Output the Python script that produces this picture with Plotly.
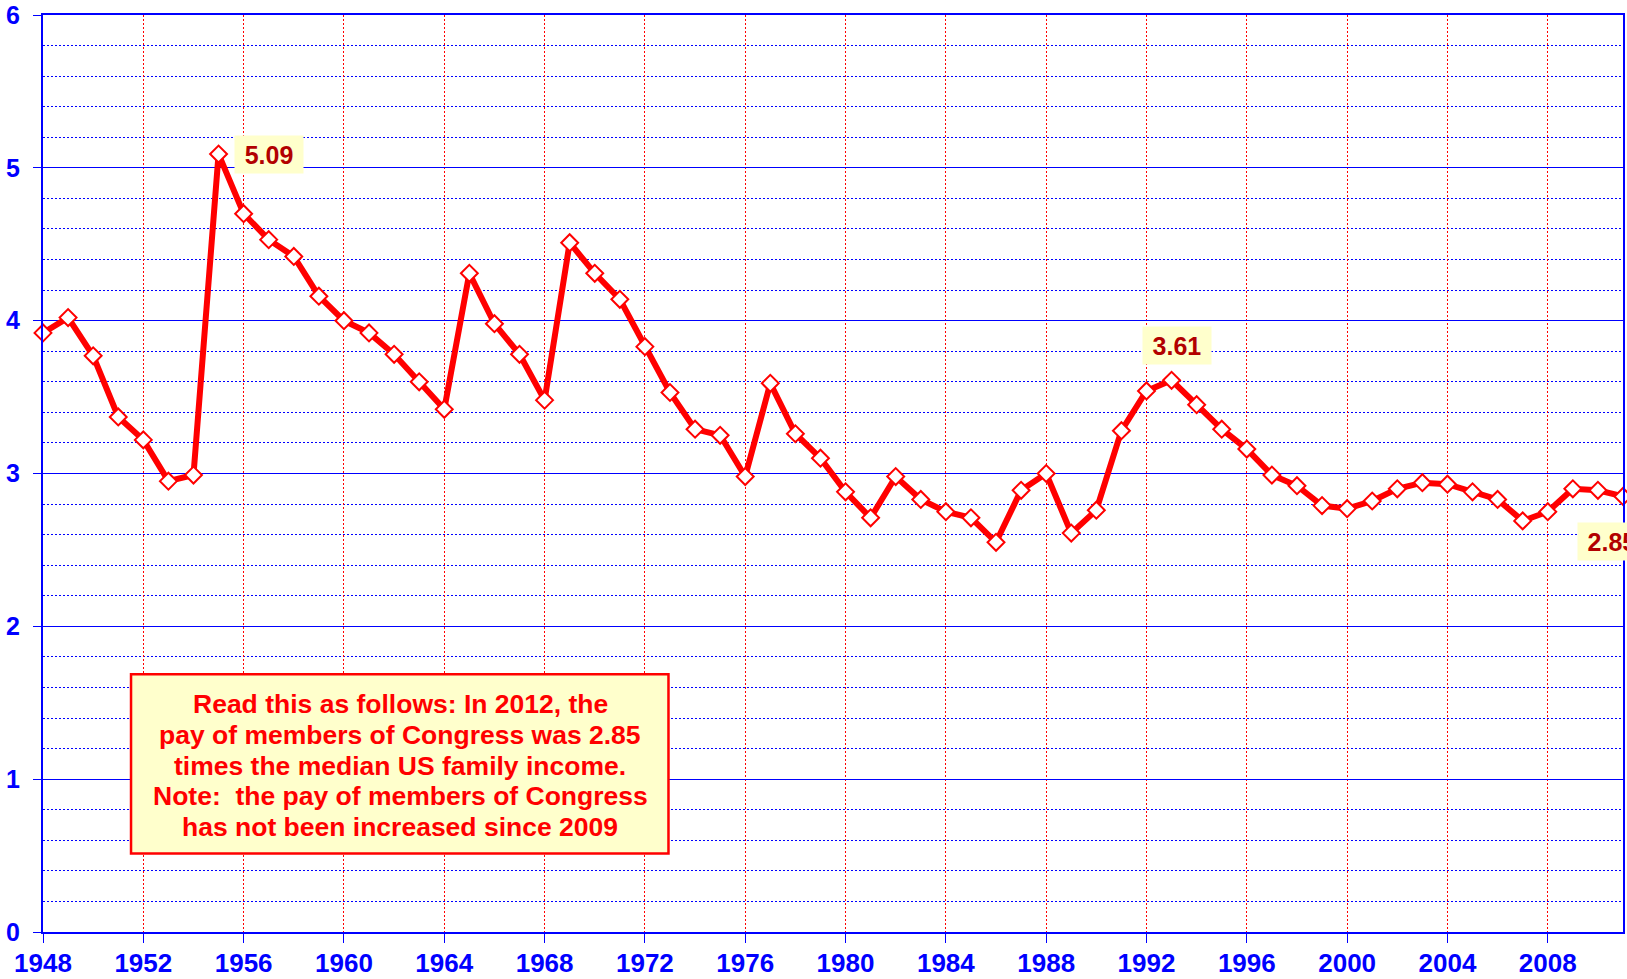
import plotly.graph_objects as go

# ---- data -------------------------------------------------------------
years = list(range(1948, 2012))
ratio = [3.92, 4.02, 3.77, 3.37, 3.22, 2.95, 2.99, 5.09, 4.70, 4.53,
         4.42, 4.16, 4.00, 3.92, 3.78, 3.60, 3.42, 4.31, 3.98, 3.78,
         3.48, 4.51, 4.31, 4.14, 3.83, 3.53, 3.29, 3.25, 2.98, 3.59,
         3.26, 3.10, 2.88, 2.71, 2.98, 2.83, 2.75, 2.71, 2.55, 2.89,
         3.00, 2.61, 2.76, 3.28, 3.54, 3.61, 3.45, 3.29, 3.16, 2.99,
         2.92, 2.79, 2.77, 2.82, 2.90, 2.94, 2.93, 2.88, 2.83, 2.69,
         2.75, 2.90, 2.89, 2.85]
x_tick_years = list(range(1948, 2009, 4))
y_tick_vals = [0, 1, 2, 3, 4, 5, 6]
labelled_years = [1955, 1993, 2011]
note_lines = [
    "Read this as follows: In 2012, the",
    "pay of members of Congress was 2.85",
    "times the median US family income.",
    "Note:  the pay of members of Congress",
    "has not been increased since 2009",
]

FONT = "Liberation Sans, Arial, sans-serif"

fig = go.Figure()
fig.add_trace(go.Scatter(
    x=years, y=ratio, mode="lines+markers",
    line=dict(color="#ff0000", width=6),
    marker=dict(symbol="diamond", size=13, color="white",
                line=dict(color="#ff0000", width=2)),
    cliponaxis=False, hoverinfo="x+y", showlegend=False,
))

# value labels
label_shifts = {1955: (50, 0), 1993: (5, 35), 2011: (-11, -45)}
for yr in labelled_years:
    v = ratio[years.index(yr)]
    dx, dy = label_shifts[yr]
    fig.add_annotation(
        x=yr, y=v, xref="x", yref="y", text=f"{v:.2f}", showarrow=False,
        xshift=dx, yshift=dy, bgcolor="#FFFFCC", width=60, height=29,
        borderpad=4, font=dict(family=FONT, size=25, color="#B20000", weight="bold"),
    )

# note box
fig.add_shape(type="rect", xref="x", yref="y",
              x0=1951.51, x1=1972.94, y0=0.513, y1=1.687,
              line=dict(color="#ff0000", width=2.5), fillcolor="#FFFFCC",
              layer="above")
line_y0 = 1.490
line_step = 0.201
for i, t in enumerate(note_lines):
    fig.add_annotation(
        x=1962.25, y=line_y0 - i * line_step, xref="x", yref="y",
        text=t, showarrow=False, xanchor="center", yanchor="middle",
        font=dict(family=FONT, size=26.5, color="#ff0000", weight="bold"),
    )

fig.update_xaxes(
    range=[1948, 2011], tickvals=x_tick_years, ticktext=[str(y) for y in x_tick_years],
    showgrid=True, gridcolor="#ff0000", griddash="2px,2px", gridwidth=1,
    showline=True, linecolor="#0000ff", linewidth=1.5, mirror=True,
    ticks="outside", ticklen=9, tickcolor="#0000ff", tickwidth=1,
    ticklabelstandoff=-2,
    tickfont=dict(family=FONT, size=26, color="#0000ff", weight="bold"),
    zeroline=False, automargin=False,
)
fig.update_yaxes(
    range=[0, 6], tickvals=y_tick_vals,
    showgrid=True, gridcolor="#0000ff", gridwidth=1,
    minor=dict(dtick=0.2, tick0=0, showgrid=True, gridcolor="#0000ff",
               griddash="2px,2px", gridwidth=1),
    showline=True, linecolor="#0000ff", linewidth=2, mirror=True,
    ticks="outside", ticklen=8, tickcolor="#0000ff", tickwidth=1,
    ticklabelstandoff=8,
    tickfont=dict(family=FONT, size=25, color="#0000ff", weight="bold"),
    zeroline=False, automargin=False,
)
fig.update_layout(
    width=1627, height=979,
    margin=dict(l=43, r=4, t=15, b=47, pad=0),
    paper_bgcolor="white", plot_bgcolor="white",
    showlegend=False,
)

fig.write_html("out.html", config={"displayModeBar": False},
               post_script="document.body.style.margin='0';document.body.style.overflow='hidden';")
